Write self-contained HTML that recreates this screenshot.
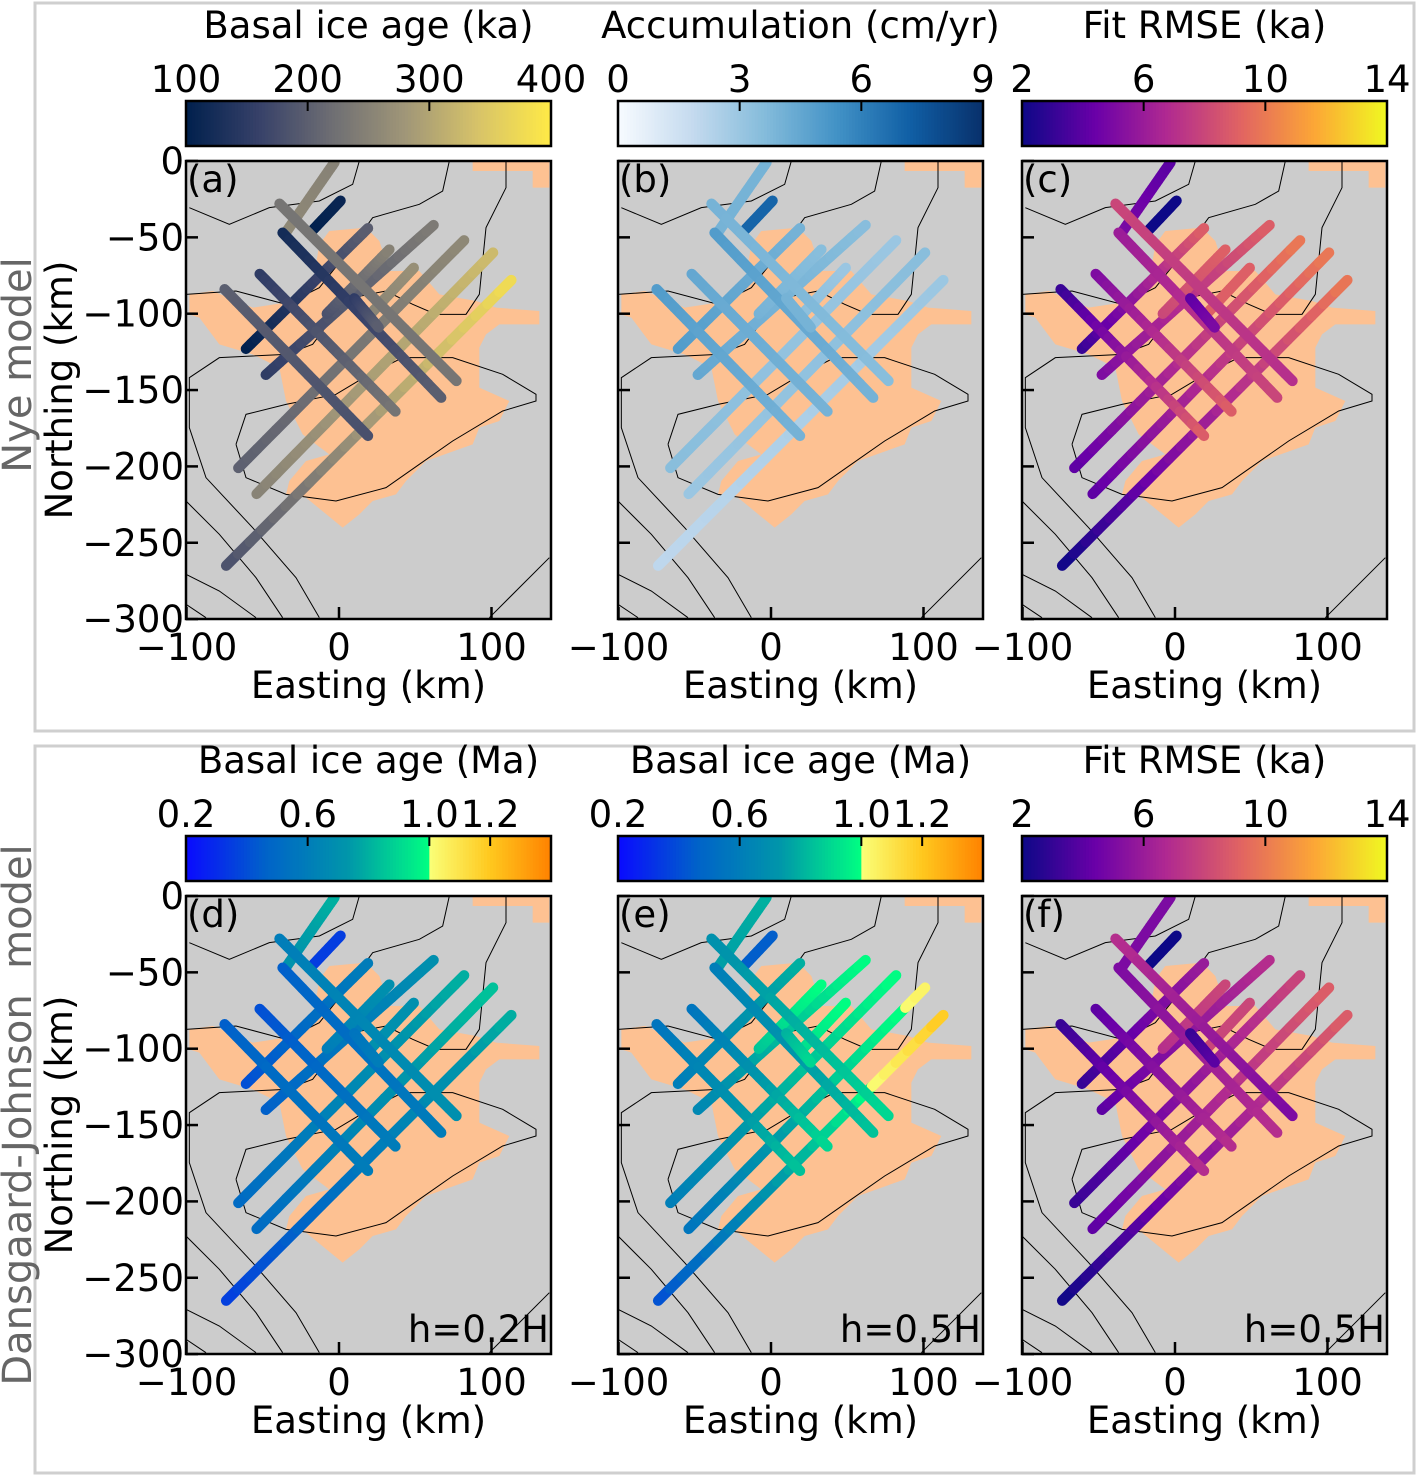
<!DOCTYPE html>
<html><head><meta charset="utf-8"><style>
body{margin:0;background:#fff}
svg{display:block;font-family:"DejaVu Sans","Liberation Sans",sans-serif}
</style></head><body>
<svg id="fig" width="1417" height="1476" viewBox="0 0 1417 1476" xmlns="http://www.w3.org/2000/svg">
<rect x="35" y="3" width="1379" height="728" fill="none" stroke="#cfcfcf" stroke-width="3"/>
<rect x="35" y="746" width="1379" height="727" fill="none" stroke="#cfcfcf" stroke-width="3"/>
<text x="0" y="0" transform="translate(31,365) rotate(-90)" text-anchor="middle" font-size="40" fill="#666">Nye model</text>
<text x="0" y="0" transform="translate(31,1115) rotate(-90)" text-anchor="middle" font-size="40" fill="#666" xml:space="preserve">Dansgaard-Johnson  model</text>
</svg>
<script>
// ---- data ----
const trackNames = ["L1","L2","L3","L4","L5","L6","L7","L8","L9","M1","M2","M3","M4","M5"];
const trackStartX = [-74,-54,-66,-48,-61,-17,-35,18,-8,-75,-52,-39,-37,10];
const trackStartY = [-265,-218,-201,-140,-123,-45,-47,-103,-100,-84,-74,-28,-47,-90];
const trackEndX = [113,101,82,62,19,1,-3,49,33,19,37,77,67,26];
const trackEndY = [-78,-60,-52,-42,-44,-26,-1,-70,-58,-180,-164,-144,-155,-109];
const ageNyeStart = [180,250,200,150,100,100,260,250,180,200,150,230,120,150];
const ageNyeEnd   = [380,330,260,240,200,110,250,270,250,180,230,230,200,200];
const accStart = [2,3,3.5,4.5,5,7,4,3.5,4,5,4.5,4,5,4];
const accEnd   = [3,3.5,3,3.5,4,7,4,3,3.5,4,4,3.5,4,4];
const rmseNyeStart = [2,4,4,5,3,2,5,9,8,3,5,8,6,4];
const rmseNyeEnd   = [10,10,10,9,9,2,4,9,9,9,9,7,8,5];
const ageDJ2Start = [0.35,0.5,0.5,0.45,0.4,0.35,0.7,0.7,0.6,0.45,0.4,0.6,0.45,0.55];
const ageDJ2End   = [0.8,0.85,0.8,0.7,0.6,0.35,0.8,0.7,0.7,0.6,0.6,0.7,0.6,0.6];
const ageDJ5Start = [0.4,0.55,0.6,0.65,0.6,0.45,0.75,0.9,0.85,0.55,0.55,0.7,0.6,0.8];
const ageDJ5End   = [1.2,1.05,1.0,1.0,0.8,0.45,0.8,1.0,1.0,0.85,0.9,0.9,0.85,0.9];
const rmseDJStart = [2,4,3,4,3,2,5,8,7,3,4,7,5,3];
const rmseDJEnd   = [9,9,8,7,6,2,5,8,8,7,7,5,7,4];
const xTicks = [-100,0,100];
const yTicks = [0,-50,-100,-150,-200,-250,-300];

// ---- map background (shared basemap, in 1/3 px units of panel) ----
const orange = [[430,210],[540,200],[580,240],[610,330],[700,330],[760,400],[870,420],[930,440],[1060,450],[1060,490],[940,490],[900,520],[880,560],[880,680],[970,720],[940,780],[880,800],[860,850],[720,900],[660,960],[630,1000],[560,1020],[520,1060],[470,1100],[360,1010],[300,1000],[310,960],[360,900],[430,880],[350,820],[300,720],[280,620],[200,580],[100,550],[40,470],[10,460],[10,400],[80,390],[200,440],[330,420],[380,370],[400,250]];
const orange2 = [[860,0],[1090,0],[1090,80],[1040,80],[1040,30],[860,30]];
const contours = [
 [[10,140],[130,190],[250,140],[400,120],[500,70],[520,0]],
 [[0,400],[150,390],[300,430],[400,380],[480,280],[560,170],[700,130],[770,90],[790,0]],
 [[960,0],[960,80],[900,200],[880,400],[840,460],[750,460],[680,430],[600,390],[500,410],[440,470],[380,550],[300,580],[100,590],[10,650],[10,800],[60,950],[200,1100],[330,1250],[400,1370]],
 [[150,850],[180,760],[300,730],[450,700],[550,640],[650,590],[800,590],[950,640],[1050,700],[1050,720],[950,750],[800,840],[700,910],[600,980],[450,1020],[300,1000],[180,950],[150,850]],
 [[0,1020],[100,1120],[210,1250],[290,1370]],
 [[0,1240],[100,1290],[210,1370]],
 [[0,1330],[60,1370]],
 [[910,1370],[1090,1190]]
];

// ---- colormaps ----
const cmCividis=[[0,32,77],[55,65,105],[110,110,115],[160,150,120],[215,195,105],[255,234,70]];
const cmBlues=[[247,251,255],[198,219,239],[133,188,219],[66,146,198],[16,95,165],[8,48,107]];
const cmPlasma=[[13,8,135],[106,0,168],[177,42,144],[225,100,98],[252,166,54],[240,249,33]];
function lerpStops(st,t){t=Math.max(0,Math.min(1,t));const n=st.length-1,i=Math.min(n-1,Math.floor(t*n)),f=t*n-i;const a=st[i],b=st[i+1];return `rgb(${a.map((v,k)=>Math.round(v+(b[k]-v)*f)).join(',')})`;}
function cmJet(t){t=Math.max(0,Math.min(1,t));if(t<2/3){return lerpStops([[10,10,255],[0,100,200],[0,150,170],[0,255,130]],t*1.5);}return lerpStops([[250,255,120],[255,200,30],[255,130,0]],(t-2/3)*3);}

const svg=document.getElementById('fig');
const NS="http://www.w3.org/2000/svg";
function el(tag,attrs,parent){const e=document.createElementNS(NS,tag);for(const k in attrs)e.setAttribute(k,attrs[k]);(parent||svg).appendChild(e);return e;}

const W=365,H=458,FS=37;
function makeScales(X0,Y0){return {xs:km=>X0+153+km*1.525, ys:km=>Y0-km*1.527};}

function panel(id,X0,Y0,cm,vmin,vmax,starts,ends,showY,note){
  const g=el('g',{});
  
  
  const {xs,ys}=makeScales(X0,Y0);
  const clipId='clip'+id;
  const cp=el('clipPath',{id:clipId},g);el('rect',{x:X0,y:Y0,width:W,height:H},cp);
  const bg=el('rect',{x:X0,y:Y0,width:W,height:H,fill:'#cccccc'},g);
  
  
  const inner=el('g',{'clip-path':`url(#${clipId})`},g);
  [orange,orange2].forEach(poly=>{
    const p=el('polygon',{points:poly.map(q=>(X0+q[0]/3)+','+(Y0+q[1]/3)).join(' '),fill:'#fdc192'},inner);
    
    
  });
  contours.forEach(c=>{
    const p=el('polyline',{points:c.map(q=>(X0+q[0]/3)+','+(Y0+q[1]/3)).join(' '),fill:'none',stroke:'#000','stroke-width':1},inner);
    
    
  });
  trackNames.forEach((nm,i)=>{
    const tg=el('g',{},inner);
    
    
    const N=24;
    for(let s=0;s<N;s++){
      const f0=s/N,f1=(s+1)/N,fm=(s+0.5)/N;
      const x0=trackStartX[i]+(trackEndX[i]-trackStartX[i])*f0, y0=trackStartY[i]+(trackEndY[i]-trackStartY[i])*f0;
      const x1=trackStartX[i]+(trackEndX[i]-trackStartX[i])*f1, y1=trackStartY[i]+(trackEndY[i]-trackStartY[i])*f1;
      const v=starts[i]+(ends[i]-starts[i])*fm;
      el('line',{x1:xs(x0),y1:ys(y0),x2:xs(x1),y2:ys(y1),stroke:cm((v-vmin)/(vmax-vmin)),'stroke-width':10.5,'stroke-linecap':'round'},tg);
    }
  });
  el('rect',{x:X0,y:Y0,width:W,height:H,fill:'none',stroke:'#000','stroke-width':2.5},g);
  xTicks.forEach(t=>{
    el('line',{x1:xs(t),x2:xs(t),y1:Y0+H,y2:Y0+H-12,stroke:'#000','stroke-width':2.5},g);
    const tx=el('text',{x:xs(t),y:Y0+H+41,'text-anchor':'middle','font-size':FS},g);tx.textContent=t<0?'\u2212'+(-t):t;
    
    
  });
  yTicks.forEach(t=>{
    el('line',{x1:X0,x2:X0+12,y1:ys(t),y2:ys(t),stroke:'#000','stroke-width':2.5},g);
    if(showY){const tx=el('text',{x:X0-2,y:ys(t)+13,'text-anchor':'end','font-size':FS},g);tx.textContent=t<0?'\u2212'+(-t):t;
      
      }
  });
  const xl=el('text',{x:X0+W/2,y:Y0+H+79,'text-anchor':'middle','font-size':FS},g);xl.textContent='Easting (km)';
  
  
  if(showY){const yl=el('text',{transform:`translate(${X0-114},${Y0+H/2}) rotate(-90)`,'text-anchor':'middle','font-size':FS},g);yl.textContent='Northing (km)';
    
    }
  const pl=el('text',{x:X0+1,y:Y0+31,'font-size':FS},g);pl.textContent='('+id+')';
  
  
  if(note){const n=el('text',{x:X0+W-2,y:Y0+H-12,'text-anchor':'end','font-size':FS},g);n.textContent=note;
    
    }
}

function colorbar(id,X0,Y0,cm,title,ticks,labels,vmin,vmax){
  const g=el('g',{});
  
  
  const n=120;
  for(let i=0;i<n;i++){el('rect',{x:X0+W*i/n,y:Y0,width:W/n+0.6,height:45,fill:cm((i+0.5)/n)},g);}
  el('rect',{x:X0,y:Y0,width:W,height:45,fill:'none',stroke:'#000','stroke-width':2.5},g);
  ticks.forEach((t,k)=>{const x=X0+(t-vmin)/(vmax-vmin)*W;
    el('line',{x1:x,x2:x,y1:Y0,y2:Y0+10,stroke:'#000','stroke-width':2},g);
    const tx=el('text',{x:x,y:Y0-9,'text-anchor':'middle','font-size':FS},g);tx.textContent=labels[k];
    
    });
  const tt=el('text',{x:X0+W/2,y:Y0-63,'text-anchor':'middle','font-size':FS},g);tt.textContent=title;
  
  
}

const civ=t=>lerpStops(cmCividis,t), blu=t=>lerpStops(cmBlues,t), pla=t=>lerpStops(cmPlasma,t);
panel('a',186,161,civ,100,400,ageNyeStart,ageNyeEnd,true,'');
panel('b',618,161,blu,0,9,accStart,accEnd,false,'');
panel('c',1022,161,pla,2,14,rmseNyeStart,rmseNyeEnd,false,'');
panel('d',186,896,cmJet,0.2,1.4,ageDJ2Start,ageDJ2End,true,'h=0.2H');
panel('e',618,896,cmJet,0.2,1.4,ageDJ5Start,ageDJ5End,false,'h=0.5H');
panel('f',1022,896,pla,2,14,rmseDJStart,rmseDJEnd,false,'h=0.5H');
colorbar('a',186,101,civ,'Basal ice age (ka)',[100,200,300,400],['100','200','300','400'],100,400);
colorbar('b',618,101,blu,'Accumulation (cm/yr)',[0,3,6,9],['0','3','6','9'],0,9);
colorbar('c',1022,101,pla,'Fit RMSE (ka)',[2,6,10,14],['2','6','10','14'],2,14);
colorbar('d',186,836,cmJet,'Basal ice age (Ma)',[0.2,0.6,1.0,1.2],['0.2','0.6','1.0','1.2'],0.2,1.4);
colorbar('e',618,836,cmJet,'Basal ice age (Ma)',[0.2,0.6,1.0,1.2],['0.2','0.6','1.0','1.2'],0.2,1.4);
colorbar('f',1022,836,pla,'Fit RMSE (ka)',[2,6,10,14],['2','6','10','14'],2,14);
</script>
</body></html>
